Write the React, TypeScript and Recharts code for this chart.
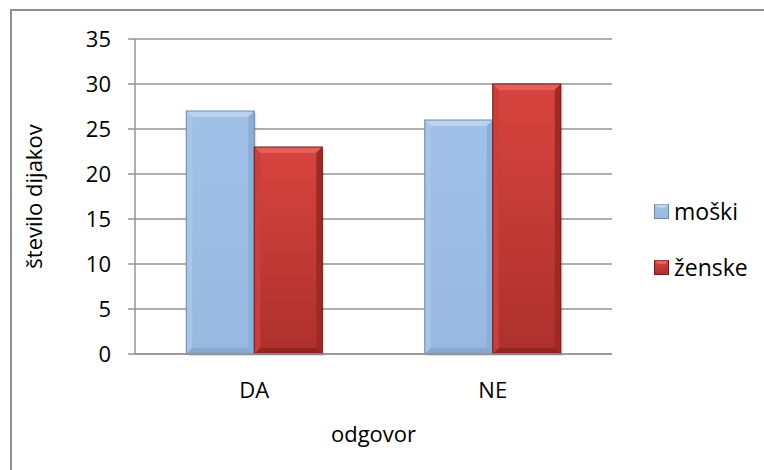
import React from "react";
import { BarChart, Bar, XAxis, YAxis, CartesianGrid, Label } from "recharts";

const categories = ["DA", "NE"];
const moski = [27, 26];
const zenske = [23, 30];
const yTicks = [0, 5, 10, 15, 20, 25, 30, 35];
const seriesNames = ["moški", "ženske"];
const yTitle = "število dijakov";
const xTitle = "odgovor";

const data = categories.map((c, i) => ({ cat: c, moski: moski[i], zenske: zenske[i] }));

const FONT = "'Open Sans', 'Noto Sans', sans-serif";
const AXIS = "#959595";

type Pal = { id: string; top: string; bot: string; tb: string; lb: string; rb: string; bb: string; border: string };
const BLUE: Pal = { id: "blue", top: "#a2c1e8", bot: "#97b8e0", tb: "#bcd3f0", lb: "#a8c5ea", rb: "#8dadd6", bb: "#89a8d0", border: "#6a89b2" };
const RED: Pal = { id: "red", top: "#d8443f", bot: "#ad302c", tb: "#e4605a", lb: "#c93f3a", rb: "#9f2925", bb: "#932421", border: "#721816" };

const makeShape = (p: Pal) => (props: any) => {
  const { x, y, width, height } = props;
  if (!height || height <= 0) return null;
  const b = Math.min(6, width / 4, height / 4);
  const x2 = x + width;
  const y2 = y + height;
  return (
    <g>
      <rect x={x + 2} y={y + 2} width={width} height={height} fill="#000" opacity={0.12} />
      <rect x={x} y={y} width={width} height={height} fill={`url(#grad-${p.id})`} />
      <polygon points={`${x},${y} ${x2},${y} ${x2 - b},${y + b} ${x + b},${y + b}`} fill={p.tb} />
      <polygon points={`${x},${y} ${x + b},${y + b} ${x + b},${y2 - b} ${x},${y2}`} fill={p.lb} />
      <polygon points={`${x2},${y} ${x2 - b},${y + b} ${x2 - b},${y2 - b} ${x2},${y2}`} fill={p.rb} />
      <polygon points={`${x},${y2} ${x + b},${y2 - b} ${x2 - b},${y2 - b} ${x2},${y2}`} fill={p.bb} />
      <rect x={x} y={y} width={width} height={height} fill="none" stroke={p.border} strokeWidth={1} />
    </g>
  );
};

const XTick = (props: any) => {
  const { x, y, payload } = props;
  return (
    <text x={x} y={y + 42} textAnchor="middle" fontFamily={FONT} fontSize={22} fill="#000">
      {payload.value}
    </text>
  );
};

const YTick = (props: any) => {
  const { x, y, payload } = props;
  return (
    <text x={x} y={y + 8} textAnchor="end" fontFamily={FONT} fontSize={22} fill="#000">
      {payload.value}
    </text>
  );
};

const LegendIcon = ({ p }: { p: Pal }) => (
  <svg width={15} height={15} style={{ display: "block" }}>
    <rect x={0.5} y={0.5} width={14} height={14} fill={`url(#lg-${p.id})`} stroke={p.border} />
    <polygon points="0.5,0.5 14.5,0.5 11,4 4,4" fill={p.tb} />
    <defs>
      <linearGradient id={`lg-${p.id}`} x1="0" y1="0" x2="0" y2="1">
        <stop offset="0" stopColor={p.top} />
        <stop offset="1" stopColor={p.bot} />
      </linearGradient>
    </defs>
  </svg>
);

export default function App() {
  return (
    <div style={{ position: "absolute", left: 0, top: 0, width: 764, height: 470, overflow: "hidden", background: "#fff" }}>
      <div style={{ position: "absolute", left: 10, top: 9, width: 800, height: 520, border: "2px solid #8f8f8f", boxSizing: "border-box" }} />
      <div style={{ position: "absolute", left: 0, top: 0 }}>
        <BarChart
          width={764}
          height={470}
          data={data}
          margin={{ top: 39, right: 152, bottom: 0, left: 0 }}
          barCategoryGap="21.5%"
          barGap={0}
        >
          <defs>
            {[BLUE, RED].map((p) => (
              <linearGradient key={p.id} id={`grad-${p.id}`} x1="0" y1="0" x2="0" y2="1">
                <stop offset="0" stopColor={p.top} />
                <stop offset="1" stopColor={p.bot} />
              </linearGradient>
            ))}
          </defs>
          <CartesianGrid vertical={false} stroke={AXIS} strokeWidth={1.5} />
          <XAxis
            dataKey="cat"
            height={116}
            tickLine={false}
            tickSize={0}
            axisLine={{ stroke: AXIS, strokeWidth: 1.5 }}
            tick={<XTick />}
            interval={0}
          >
            <Label
              content={(lp: any) => {
                const vb = lp.viewBox;
                return (
                  <text x={vb.x + vb.width / 2} y={vb.y + 88} textAnchor="middle" fontFamily={FONT} fontSize={22} fill="#000">
                    {xTitle}
                  </text>
                );
              }}
            />
          </XAxis>
          <YAxis
            width={135}
            domain={[0, 35]}
            ticks={yTicks}
            interval={0}
            tickSize={7}
            tickMargin={17}
            tickLine={{ stroke: AXIS, strokeWidth: 1.5 }}
            axisLine={{ stroke: AXIS, strokeWidth: 1.5 }}
            tick={<YTick />}
          >
            <Label
              content={(lp: any) => {
                const vb = lp.viewBox;
                const cx = vb.x + 42;
                const cy = vb.y + vb.height / 2;
                return (
                  <text x={cx} y={cy} transform={`rotate(-90, ${cx}, ${cy})`} textAnchor="middle" fontFamily={FONT} fontSize={22} fill="#000">
                    {yTitle}
                  </text>
                );
              }}
            />
          </YAxis>
          <Bar dataKey="moski" name={seriesNames[0]} isAnimationActive={false} shape={makeShape(BLUE)} />
          <Bar dataKey="zenske" name={seriesNames[1]} isAnimationActive={false} shape={makeShape(RED)} />
        </BarChart>
      </div>
      <div style={{ position: "absolute", left: 654, top: 196, fontFamily: FONT, fontSize: 23, color: "#000" }}>
        {[BLUE, RED].map((p, i) => (
          <div key={p.id} style={{ display: "flex", alignItems: "center", height: 30, marginBottom: i === 0 ? 26 : 0 }}>
            <LegendIcon p={p} />
            <span style={{ marginLeft: 5 }}>{seriesNames[i]}</span>
          </div>
        ))}
      </div>
    </div>
  );
}
